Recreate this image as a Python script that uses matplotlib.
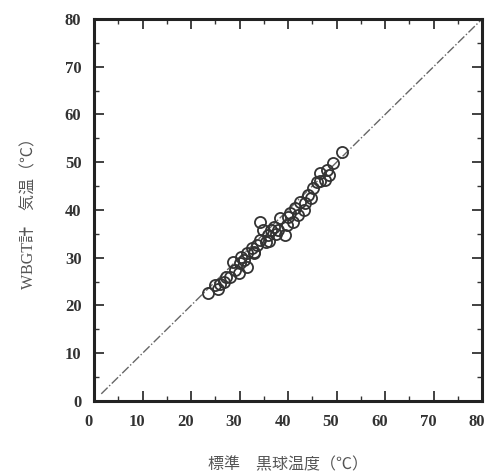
import matplotlib
matplotlib.use('Agg')
from matplotlib import pyplot as plt
from matplotlib.ticker import MultipleLocator
from matplotlib.transforms import ScaledTranslation

# standard globe temperature vs WBGT meter reading
globe_std = [23.6, 24.9, 26.0, 26.7, 28.0, 29.8, 28.7, 30.4, 31.5, 31.5, 32.5, 33.5,
             34.2, 34.2, 34.9, 35.9, 33.0, 36.5, 37.0, 38.4, 39.4, 39.7, 40.4, 41.1,
             41.4, 42.5, 43.2, 44.2, 45.2, 45.9, 46.6, 47.6, 48.0, 49.3, 51.1, 30.0,
             27.3, 35.5, 37.6, 42.0, 25.5, 29.0, 31.0, 33.0, 36.0, 38.0, 40.0, 43.5,
             44.8, 46.5, 48.5]
wbgt_meter = [22.6, 24.3, 24.6, 25.0, 26.0, 26.7, 29.2, 30.2, 30.9, 28.1, 32.0, 32.7,
              33.7, 37.5, 35.8, 34.8, 31.0, 35.8, 36.5, 38.3, 34.8, 36.9, 39.3, 37.5,
              40.4, 41.7, 40.0, 43.1, 44.5, 45.9, 47.7, 46.3, 48.4, 49.8, 52.2, 28.8,
              26.0, 33.2, 35.0, 39.0, 23.5, 27.5, 29.5, 31.2, 33.5, 35.8, 38.5, 41.5,
              42.5, 46.0, 47.3]
line_x = [1.5, 80]
line_y = [1.5, 80]

fig = plt.figure(figsize=(4.87, 4.74), dpi=100)
ax = fig.add_axes([0.193, 0.154, 0.797, 0.806])

ax.plot(line_x, line_y, color='#666666', linestyle='-.', linewidth=1.0)
ax.plot(globe_std, wbgt_meter, linestyle='none', marker='o', markersize=8,
        markerfacecolor='none', markeredgecolor='#333333', markeredgewidth=1.3)

ax.set_xlim(0, 80)
ax.set_ylim(0, 80)
ax.xaxis.set_major_locator(MultipleLocator(10))
ax.yaxis.set_major_locator(MultipleLocator(10))
ax.xaxis.set_minor_locator(MultipleLocator(5))
ax.yaxis.set_minor_locator(MultipleLocator(5))
ax.tick_params(which='both', direction='in', top=True, right=True, color='#333333')
ax.tick_params(which='major', length=7, width=1.3, pad=9)
ax.tick_params(which='minor', length=3.5, width=1.0)
for s in ax.spines.values():
    s.set_linewidth(2.2)
    s.set_color('#222222')

shift = ScaledTranslation(-4 / 72, 0, fig.dpi_scale_trans)
for lab in ax.get_xticklabels():
    lab.set_transform(lab.get_transform() + shift)
for lab in ax.get_xticklabels() + ax.get_yticklabels():
    lab.set_family(['Liberation Serif', 'DejaVu Serif'])
    lab.set_fontweight('bold')
    lab.set_fontsize(12)
    lab.set_color('#333333')

cjk = ['Liberation Serif', 'Noto Sans CJK JP']
ax.set_xlabel('標準　黒球温度（℃）', family=cjk, fontsize=11.5, color='#555555', labelpad=20)
ax.set_ylabel('WBGT計　気温（℃）', family=cjk, fontsize=11.5, color='#555555', labelpad=20)

fig.savefig('out.png', dpi=100)
